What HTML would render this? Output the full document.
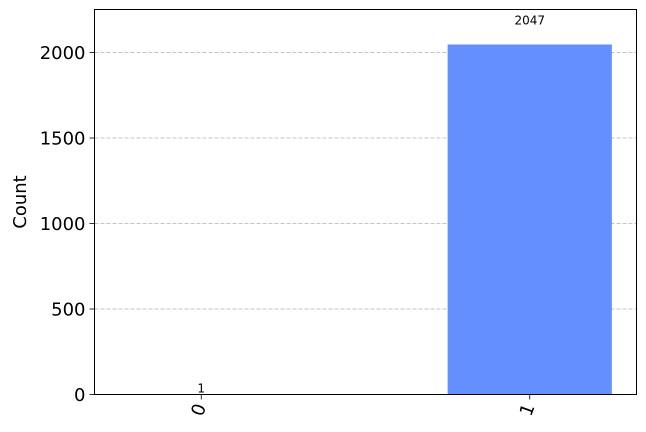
<!DOCTYPE html>
<html><head><meta charset="utf-8"><style>
body{margin:0;background:#fff}
svg{display:block;font-family:"DejaVu Sans","Liberation Sans",sans-serif}
</style></head><body>
<svg id="chart" width="646" height="432" viewBox="0 0 646 432" xmlns="http://www.w3.org/2000/svg">
<rect width="646" height="432" fill="#fff"/>
<g id="grid"></g><g id="bars"></g><g id="axes"></g>
</svg>
<script>
const categories = ["0", "1"];
const counts = [1, 2047];
const yTicks = [0, 500, 1000, 1500, 2000];

const L = 94.5, R = 636.5, T = 9.5, B = 394.5;
const yMax = Math.max(...counts) * 1.1;
const xMin = -0.325, xMax = categories.length - 1 + 0.325;
const xs = i => L + (i - xMin) / (xMax - xMin) * (R - L);
const ys = v => B - v / yMax * (B - T);
const NS = "http://www.w3.org/2000/svg";
function mk(tag, attrs, parent, text) {
  const e = document.createElementNS(NS, tag);
  for (const k in attrs) e.setAttribute(k, attrs[k]);
  if (text !== undefined) e.textContent = text;
  parent.appendChild(e); return e;
}
const grid = document.getElementById('grid'), bars = document.getElementById('bars'), axes = document.getElementById('axes');
yTicks.forEach(t => {
  if (t > 0) {
    const g = mk('line', {x1: L, x2: R, y1: ys(t), y2: ys(t), stroke: '#b0b0b0', 'stroke-dasharray': '4,2', 'stroke-width': 0.8}, grid);
    
    
  }
  const tk = mk('line', {x1: L - 5, x2: L, y1: ys(t), y2: ys(t), stroke: '#000', 'stroke-width': 0.8}, axes);
  
  
  const lb = mk('text', {x: L - 9, y: ys(t) + 6.5, 'text-anchor': 'end', 'font-size': 18}, axes, String(t));
  
  
});
categories.forEach((c, i) => {
  const x0 = xs(i - 0.25), x1 = xs(i + 0.25);
  const b = mk('rect', {x: x0, y: ys(counts[i]), width: x1 - x0, height: B - ys(counts[i]), fill: '#648fff'}, bars);
  
  
  const big = counts[i] / yMax > 0.5;
  const v = mk('text', {x: xs(i), y: big ? ys(counts[i] * 1.06) + 1 : ys(counts[i]) - 2, 'text-anchor': 'middle', 'font-size': 12}, bars, String(counts[i]));
  
  
  const tk = mk('line', {x1: xs(i), x2: xs(i), y1: B, y2: B + 5, stroke: '#000', 'stroke-width': 0.8}, axes);
  
  
  const lb = mk('text', {x: 0, y: 0, 'text-anchor': 'end', 'font-size': 18, transform: `translate(${xs(i) + 5},${B + 12}) rotate(-70)`}, axes, c);
  
  
});
const frame = mk('rect', {x: L, y: T, width: R - L, height: B - T, fill: 'none', stroke: '#000', 'stroke-width': 1}, axes);


const yl = mk('text', {x: 0, y: 0, 'text-anchor': 'middle', 'font-size': 18, transform: `translate(26,${(T + B) / 2}) rotate(-90)`}, axes, 'Count');


</script>
</body></html>
